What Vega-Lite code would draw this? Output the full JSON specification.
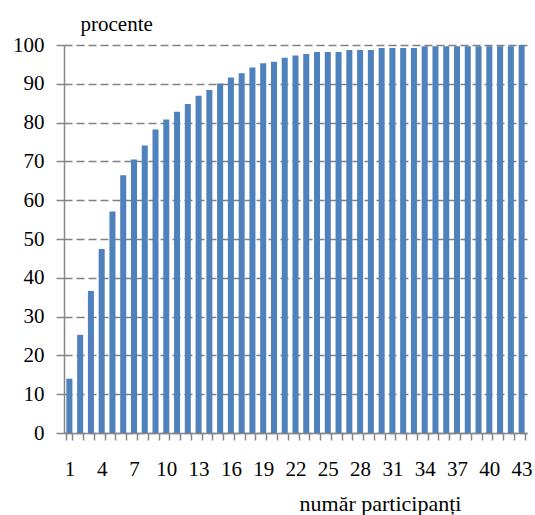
{
  "$schema": "https://vega.github.io/schema/vega-lite/v6.json",
  "width": 463,
  "height": 388,
  "autosize": {"type": "none"},
  "padding": {"left": 64, "top": 45, "right": 8, "bottom": 82},
  "config": {
    "view": {"stroke": null},
    "font": "'Liberation Serif', 'Times New Roman', serif",
    "axis": {"labelFont": "'Liberation Serif', 'Times New Roman', serif", "titleFont": "'Liberation Serif', 'Times New Roman', serif"}
  },
  "data": {
    "values": [
      {"n": 1, "p": 14.0}, {"n": 2, "p": 25.3}, {"n": 3, "p": 36.6}, {"n": 4, "p": 47.4},
      {"n": 5, "p": 57.1}, {"n": 6, "p": 66.4}, {"n": 7, "p": 70.5}, {"n": 8, "p": 74.1},
      {"n": 9, "p": 78.2}, {"n": 10, "p": 80.8}, {"n": 11, "p": 82.8}, {"n": 12, "p": 84.8},
      {"n": 13, "p": 86.9}, {"n": 14, "p": 88.4}, {"n": 15, "p": 90.1}, {"n": 16, "p": 91.6},
      {"n": 17, "p": 92.7}, {"n": 18, "p": 94.2}, {"n": 19, "p": 95.3}, {"n": 20, "p": 95.7},
      {"n": 21, "p": 96.7}, {"n": 22, "p": 97.3}, {"n": 23, "p": 97.7}, {"n": 24, "p": 98.2},
      {"n": 25, "p": 98.2}, {"n": 26, "p": 98.2}, {"n": 27, "p": 98.7}, {"n": 28, "p": 98.7},
      {"n": 29, "p": 98.7}, {"n": 30, "p": 99.2}, {"n": 31, "p": 99.2}, {"n": 32, "p": 99.2},
      {"n": 33, "p": 99.2}, {"n": 34, "p": 99.7}, {"n": 35, "p": 99.7}, {"n": 36, "p": 99.7},
      {"n": 37, "p": 99.7}, {"n": 38, "p": 99.7}, {"n": 39, "p": 99.7}, {"n": 40, "p": 99.7},
      {"n": 41, "p": 99.7}, {"n": 42, "p": 99.7}, {"n": 43, "p": 100}
    ]
  },
  "mark": {"type": "bar", "color": "#4F81BD"},
  "encoding": {
    "x": {
      "field": "n",
      "type": "ordinal",
      "sort": null,
      "scale": {"paddingInner": 0.44, "paddingOuter": 0.22},
      "axis": {
        "tickBand": "extent",
        "labelExpr": "(datum.value - 1) % 3 == 0 ? datum.label : ''",
        "labelOverlap": false,
        "labelAngle": 0,
        "domainColor": "#868686",
        "domainWidth": 1.5,
        "tickColor": "#868686",
        "tickWidth": 1.5,
        "tickSize": 7,
        "labelFontSize": 21,
        "labelColor": "#000000",
        "labelPadding": 18,
        "title": "număr participanți",
        "titleFontSize": 22,
        "titleFontWeight": "normal",
        "titleColor": "#000000",
        "titleX": 316,
        "titleY": 77,
        "titleBaseline": "alphabetic",
        "titleAlign": "center"
      }
    },
    "y": {
      "field": "p",
      "type": "quantitative",
      "scale": {"domain": [0, 100]},
      "axis": {
        "values": [0, 10, 20, 30, 40, 50, 60, 70, 80, 90, 100],
        "grid": true,
        "gridDash": [8, 4],
        "gridColor": "#808080",
        "gridWidth": 1.6,
        "domainColor": "#868686",
        "domainWidth": 1.5,
        "tickColor": "#868686",
        "tickWidth": 1.5,
        "tickSize": 8,
        "labelFontSize": 21,
        "labelColor": "#000000",
        "labelPadding": 12,
        "title": "procente",
        "titleAngle": 0,
        "titleAlign": "left",
        "titleBaseline": "alphabetic",
        "titleX": 16,
        "titleY": -15,
        "titleFontSize": 21,
        "titleFontWeight": "normal",
        "titleColor": "#000000"
      }
    }
  }
}
